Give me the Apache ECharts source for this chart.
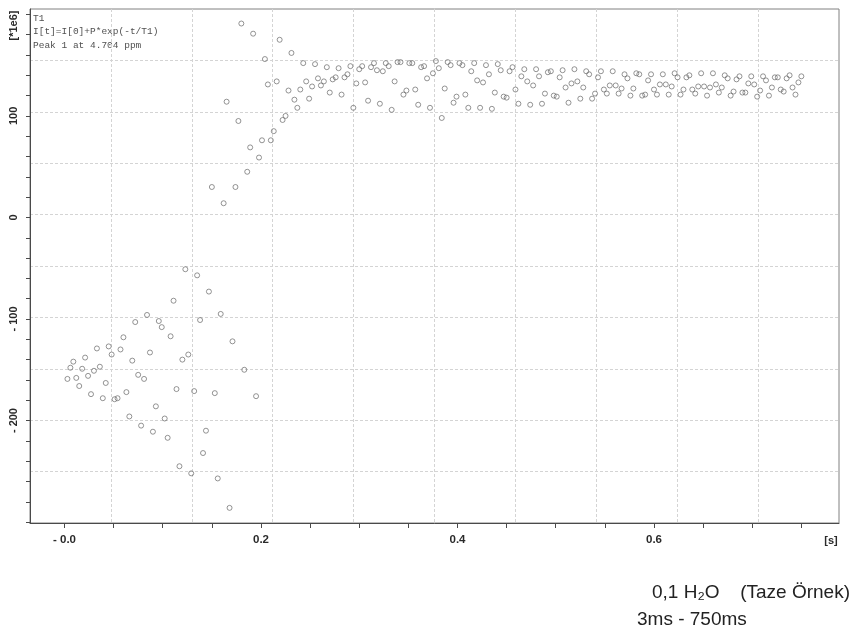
<!DOCTYPE html>
<html>
<head>
<meta charset="utf-8">
<script src="https://cdn.jsdelivr.net/npm/echarts@6/dist/echarts.min.js"></script>
<style>
  html, body { margin: 0; padding: 0; background: #ffffff; }
  #chart { width: 853px; height: 630px; }
</style>
</head>
<body>
<div id="chart"></div>
<script>
// Inversion-recovery delays (ms) and integrated intensity of peak 1 (units of 1e6)
const delaysMs = [
  3, 6, 9, 12, 15, 18, 21, 24, 27, 30,
  33, 36, 39, 42, 45, 48, 51, 54, 57, 60,
  63, 66, 69, 72, 75, 78, 81, 84, 87, 90,
  93, 96, 99, 102, 105, 108, 111, 114, 117, 120,
  123, 126, 129, 132, 135, 138, 141, 144, 147, 150,
  153, 156, 159, 162, 165, 168, 171, 174, 177, 180,
  183, 186, 189, 192, 195, 198, 201, 204, 207, 210,
  213, 216, 219, 222, 225, 228, 231, 234, 237, 240,
  243, 246, 249, 252, 255, 258, 261, 264, 267, 270,
  273, 276, 279, 282, 285, 288, 291, 294, 297, 300,
  303, 306, 309, 312, 315, 318, 321, 324, 327, 330,
  333, 336, 339, 342, 345, 348, 351, 354, 357, 360,
  363, 366, 369, 372, 375, 378, 381, 384, 387, 390,
  393, 396, 399, 402, 405, 408, 411, 414, 417, 420,
  423, 426, 429, 432, 435, 438, 441, 444, 447, 450,
  453, 456, 459, 462, 465, 468, 471, 474, 477, 480,
  483, 486, 489, 492, 495, 498, 501, 504, 507, 510,
  513, 516, 519, 522, 525, 528, 531, 534, 537, 540,
  543, 546, 549, 552, 555, 558, 561, 564, 567, 570,
  573, 576, 579, 582, 585, 588, 591, 594, 597, 600,
  603, 606, 609, 612, 615, 618, 621, 624, 627, 630,
  633, 636, 639, 642, 645, 648, 651, 654, 657, 660,
  663, 666, 669, 672, 675, 678, 681, 684, 687, 690,
  693, 696, 699, 702, 705, 708, 711, 714, 717, 720,
  723, 726, 729, 732, 735, 738, 741, 744, 747, 750
];

const intensity = [
  -159, -148, -142, -158, -166, -149, -138, -156, -174, -151,
  -129, -147, -178, -163, -127, -135, -179, -178, -130, -118,
  -172, -196, -141, -103, -155, -205, -159, -96, -133, -211,
  -186, -102, -108, -198, -217, -117, -82, -169, -245, -140,
  -51, -135, -252, -171, -57, -101, -232, -210, -73, 30,
  -173, -257, -95, 14, 114, -286, -122, 30, 95, 191,
  -150, 45, 69, 181, -176, 59, 76, 156, 131, 76,
  85, 134, 175, 96, 100, 125, 162, 116, 108, 126,
  152, 134, 117, 129, 151, 137, 130, 134, 148, 123,
  136, 138, 147, 121, 138, 141, 149, 108, 132, 146,
  149, 133, 115, 148, 152, 145, 112, 144, 152, 149,
  106, 134, 153, 153, 121, 125, 152, 152, 126, 111,
  148, 149, 137, 108, 142, 154, 147, 98, 127, 153,
  150, 113, 119, 152, 150, 121, 108, 144, 152, 135,
  108, 133, 150, 141, 107, 123, 151, 145, 119, 118,
  144, 148, 126, 112, 139, 146, 134, 111, 130, 146,
  139, 112, 122, 143, 144, 120, 119, 138, 145, 128,
  113, 132, 146, 134, 117, 128, 144, 141, 117, 122,
  138, 144, 126, 122, 130, 144, 130, 122, 127, 141,
  137, 120, 127, 142, 141, 120, 121, 135, 141, 126,
  121, 131, 141, 131, 121, 129, 142, 138, 121, 126,
  138, 140, 126, 122, 129, 142, 129, 120, 128, 142,
  131, 123, 128, 140, 137, 120, 124, 136, 139, 123,
  123, 132, 139, 131, 119, 125, 139, 135, 120, 128,
  138, 138, 126, 124, 137, 140, 128, 121, 133, 139
];

// Axis ticks and labelled positions
const xTickValues = [0, 0.05, 0.1, 0.15, 0.2, 0.25, 0.3, 0.35, 0.4, 0.45, 0.5, 0.55, 0.6, 0.65, 0.7, 0.75];
const xLabelValues = [0, 0.2, 0.4, 0.6];
const yTickValues = [-300, -280, -260, -240, -220, -200, -180, -160, -140, -120, -100, -80, -60, -40, -20,
                     0, 20, 40, 60, 80, 100, 120, 140, 160, 180, 200];
const yLabelValues = [-200, -100, 0, 100];

// Text blocks
const headerLines = ['T1', 'I[t]=I[0]+P*exp(-t/T1)', 'Peak 1 at 4.704 ppm'];
const yUnit = '[*1e6]';
const xUnit = '[s]';
const sampleLabel = '0,1 H\u2082O';
const sampleNote = '(Taze \u00D6rnek)';
const rangeLabel = '3ms - 750ms';

const points = delaysMs.map((ms, i) => [ms / 1000, intensity[i]]);

const chart = echarts.init(document.getElementById('chart'), null, { renderer: 'canvas' });

const axisFont = { fontFamily: 'Liberation Sans', fontWeight: 'bold', color: '#2a2a2a' };
const gridLine = {
  show: true, showMinLine: false, showMaxLine: false,
  lineStyle: { color: '#d4d4d4', width: 1, type: [3, 2] }
};

chart.setOption({
  animation: false,
  backgroundColor: '#ffffff',
  grid: {
    left: 30, top: 9, width: 809, height: 514,
    show: true, borderColor: '#808080', borderWidth: 1, backgroundColor: 'transparent'
  },
  xAxis: [
    {
      type: 'value', min: -0.0351, max: 0.7883, position: 'bottom',
      axisLine: { show: true, onZero: false, lineStyle: { color: '#4a4a4a', width: 1 } },
      axisTick: { show: true, customValues: xTickValues, length: 5, lineStyle: { color: '#4a4a4a' } },
      axisLabel: {
        customValues: xLabelValues, margin: 11, fontSize: 11.5, ...axisFont,
        formatter: v => (v === 0 ? '- 0.0' : v.toFixed(1))
      },
      splitLine: { show: false }
    },
    {
      // plot area divided into 10 columns
      type: 'value', min: 0, max: 10, interval: 1, position: 'top',
      axisLine: { show: false }, axisTick: { show: false }, axisLabel: { show: false },
      splitLine: gridLine
    }
  ],
  yAxis: [
    {
      type: 'value', min: -300.9, max: 205.3, position: 'left',
      axisLine: { show: true, onZero: false, lineStyle: { color: '#4a4a4a', width: 1 } },
      axisTick: { show: true, customValues: yTickValues, length: 4, lineStyle: { color: '#4a4a4a' } },
      axisLabel: {
        customValues: yLabelValues, rotate: 90, margin: 10.5, fontSize: 11, ...axisFont,
        formatter: v => (v < 0 ? '- ' + Math.abs(v) : String(v))
      },
      splitLine: { show: false }
    },
    {
      // plot area divided into 10 rows
      type: 'value', min: 0, max: 10, interval: 1, position: 'right',
      axisLine: { show: false }, axisTick: { show: false }, axisLabel: { show: false },
      splitLine: gridLine
    }
  ],
  series: [
    {
      type: 'scatter', xAxisIndex: 0, yAxisIndex: 0,
      data: points,
      symbol: 'circle', symbolSize: 5,
      itemStyle: { color: 'rgba(0,0,0,0)', borderColor: '#6a6a6a', borderWidth: 0.9 },
      emphasis: { disabled: true },
      z: 5
    }
  ],
  graphic: [
    {
      type: 'group', left: 33, top: 13.5,
      children: headerLines.map((line, i) => ({
        type: 'text', x: 0, y: i * 13.3,
        style: { text: line, font: '9.5px "Liberation Mono"', fill: '#505050' }
      }))
    },
    {
      type: 'text', x: 13.8, y: 25.5, rotation: Math.PI / 2,
      style: { text: yUnit, font: 'bold 11px "Liberation Sans"', fill: '#2a2a2a', align: 'center', verticalAlign: 'middle' }
    },
    {
      type: 'text', x: 831, y: 540.5,
      style: { text: xUnit, font: 'bold 11px "Liberation Sans"', fill: '#2a2a2a', align: 'center', verticalAlign: 'middle' }
    },
    {
      type: 'text', x: 652, y: 593,
      style: { text: sampleLabel, font: '19px "Liberation Sans"', fill: '#222222', align: 'left', verticalAlign: 'middle' }
    },
    {
      type: 'text', x: 850, y: 593,
      style: { text: sampleNote, font: '19px "Liberation Sans"', fill: '#222222', align: 'right', verticalAlign: 'middle' }
    },
    {
      type: 'text', x: 637, y: 620,
      style: { text: rangeLabel, font: '19px "Liberation Sans"', fill: '#222222', align: 'left', verticalAlign: 'middle' }
    }
  ]
});
</script>
</body>
</html>
